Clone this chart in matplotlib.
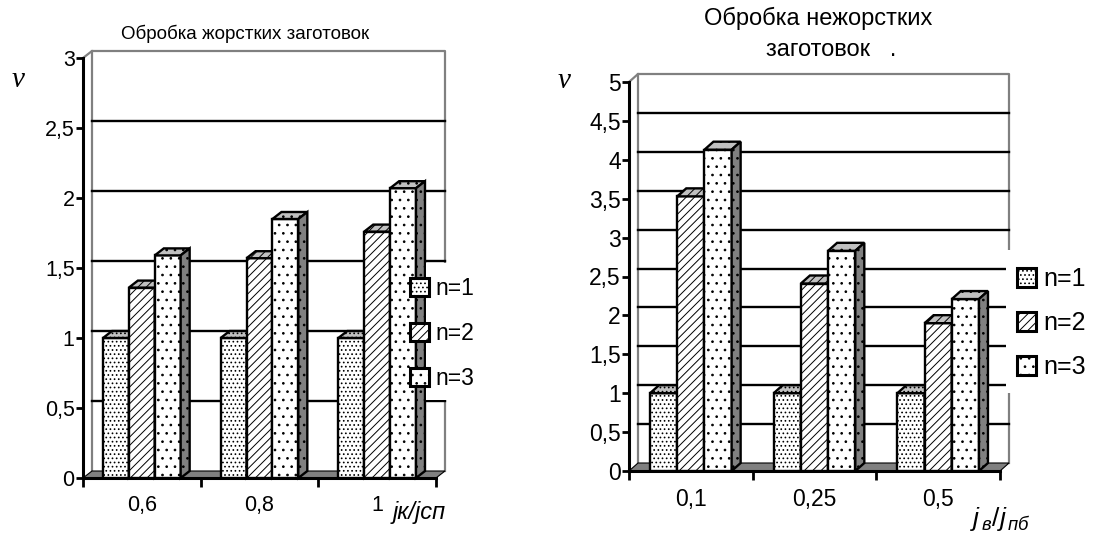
import matplotlib
matplotlib.use("Agg")
import matplotlib.pyplot as plt
from matplotlib.patches import Polygon, Rectangle, Patch

plt.rcParams["font.family"] = "Liberation Sans"
plt.rcParams["hatch.linewidth"] = 0.7
plt.rcParams["mathtext.fontset"] = "custom"
plt.rcParams["mathtext.it"] = "Liberation Sans:italic"
plt.rcParams["mathtext.rm"] = "Liberation Sans"

series_labels = ["n=1", "n=2", "n=3"]
hatches = ["....", "////", ".."]

# left panel: rigid workpieces
rigid_categories = ["0,6", "0,8", "1"]
rigid_n1 = [1.0, 1.0, 1.0]
rigid_n2 = [1.36, 1.57, 1.76]
rigid_n3 = [1.59, 1.85, 2.07]
rigid_yticks = [0, 0.5, 1, 1.5, 2, 2.5, 3]
rigid_yticklabels = ["0", "0,5", "1", "1,5", "2", "2,5", "3"]

# right panel: non-rigid workpieces
soft_categories = ["0,1", "0,25", "0,5"]
soft_n1 = [1.0, 1.0, 1.0]
soft_n2 = [3.53, 2.41, 1.90]
soft_n3 = [4.13, 2.83, 2.21]
soft_yticks = [0, 0.5, 1, 1.5, 2, 2.5, 3, 3.5, 4, 4.5, 5]
soft_yticklabels = ["0", "0,5", "1", "1,5", "2", "2,5", "3", "3,5", "4", "4,5", "5"]

GRAY = "#808080"
LIGHT = "#c0c0c0"
W, H = 1097, 537


def fig_box(x0, y0, x1, y1):
    # pixel box (top-left origin) -> figure fraction rect
    return [x0 / W, 1 - y1 / H, (x1 - x0) / W, (y1 - y0) / H]


def draw_panel(fig, ax, categories, series, yticks, yticklabels,
               ddx, ddy, ticksize, xpad):
    ncat = len(categories)
    ymax = yticks[-1]
    x0, x1 = -0.5, ncat - 0.5
    ax.set_xlim(x0, x1)
    ax.set_ylim(0, ymax)
    box = ax.get_position()
    dx = ddx * ncat / (box.width * W)
    dy = ddy * ymax / (box.height * H)

    # back wall outline
    ax.plot([x0, x0 + dx, x1 + dx, x1 + dx], [ymax, ymax + dy, ymax + dy, dy],
            color=GRAY, lw=1.6, clip_on=False, zorder=1)
    ax.plot([x0 + dx, x0 + dx], [dy, ymax + dy], color=GRAY, lw=1.6,
            clip_on=False, zorder=1)
    # gridlines on the back wall
    for t in yticks[1:-1]:
        ax.plot([x0 + dx, x1 + dx], [t + dy, t + dy], color="black", lw=1.7,
                clip_on=False, zorder=1)
    # floor
    ax.add_patch(Polygon([(x0, 0), (x1, 0), (x1 + dx, dy), (x0 + dx, dy)],
                         closed=True, facecolor=GRAY, edgecolor="black",
                         lw=0.8, clip_on=False, zorder=1.5))

    width = 0.22
    for i, vals in enumerate(series):
        xs = [c + (i - 1) * width for c in range(ncat)]
        ax.bar(xs, vals, width, facecolor="white", edgecolor="black", lw=1.7,
               hatch=hatches[i], zorder=3 + i, clip_on=False)
        for x, v in zip(xs, vals):
            xl, xr = x - width / 2, x + width / 2
            ax.add_patch(Polygon([(xl, v), (xr, v), (xr + dx, v + dy), (xl + dx, v + dy)],
                                 closed=True, facecolor=LIGHT, edgecolor="black",
                                 lw=1.7, hatch=hatches[i], zorder=3 + i, clip_on=False))
            ax.add_patch(Polygon([(xr, 0), (xr, v), (xr + dx, v + dy), (xr + dx, dy)],
                                 closed=True, facecolor=GRAY, edgecolor="black",
                                 lw=1.7, hatch=hatches[i], zorder=3 + i, clip_on=False))

    for side in ["top", "right"]:
        ax.spines[side].set_visible(False)
    for side in ["left", "bottom"]:
        ax.spines[side].set_linewidth(2.2)
        ax.spines[side].set_zorder(2.5)
    ax.set_yticks(yticks, yticklabels)
    ax.tick_params(axis="y", direction="out", length=5, width=2,
                   labelsize=ticksize, pad=1)
    ax.set_xticks([x0 + k for k in range(ncat + 1)], [""] * (ncat + 1))
    ax.set_xticks(range(ncat), categories, minor=True)
    ax.tick_params(axis="x", which="major", direction="out", length=6.5, width=2)
    ax.tick_params(axis="x", which="minor", length=0, labelsize=ticksize, pad=xpad)


def main():
    fig = plt.figure(figsize=(W / 100, H / 100), dpi=100)

    ax1 = fig.add_axes(fig_box(83, 58, 436, 478))
    draw_panel(fig, ax1, rigid_categories, [rigid_n1, rigid_n2, rigid_n3],
               rigid_yticks, rigid_yticklabels, 9, 7, 15.5, 12)

    ax2 = fig.add_axes(fig_box(629, 82, 1000, 471))
    draw_panel(fig, ax2, soft_categories, [soft_n1, soft_n2, soft_n3],
               soft_yticks, soft_yticklabels, 9, 8, 16.5, 12.5)

    # white background behind the legends
    for (a, b, c, d) in [(426, 263, 500, 400), (1006, 250, 1097, 393)]:
        r = fig_box(a, b, c, d)
        fig.add_artist(Rectangle((r[0], r[1]), r[2], r[3], transform=fig.transFigure,
                                 facecolor="white", edgecolor="none", zorder=2))

    handles = [Patch(facecolor="white", edgecolor="black", lw=2.2, hatch=h) for h in hatches]
    for (px, py, fs, hs, sp) in [(410, 277, 16.5, 0.82, 0.95), (1017, 267, 18, 0.76, 0.8)]:
        leg = fig.legend(handles, series_labels, loc="upper left",
                         bbox_to_anchor=(px / W, 1 - py / H), frameon=False,
                         fontsize=fs, handlelength=hs, handleheight=hs,
                         handletextpad=0.3, labelspacing=sp, borderpad=0,
                         borderaxespad=0)
        leg.set_zorder(5)

    # titles
    fig.text(245 / W, 1 - 34 / H, "Обробка жорстких заготовок", ha="center",
             va="center", fontsize=13.5)
    fig.text(818 / W, 1 - 18 / H, "Обробка нежорстких", ha="center",
             va="center", fontsize=17)
    fig.text(831 / W, 1 - 50 / H, "заготовок   .", ha="center",
             va="center", fontsize=17)

    # axis symbols
    for (px, py) in [(18, 80), (564, 81)]:
        fig.text(px / W, 1 - py / H, "ν", ha="center", va="center", fontsize=21,
                 family="Liberation Serif", style="italic")
    fig.text(393 / W, 1 - 513 / H, "jк/jсп", ha="left", va="center",
             fontsize=17, style="italic")
    fig.text(970 / W, 1 - 519 / H, r"$\mathit{j_{\,в}/j_{\,пб}}$", ha="left",
             va="center", fontsize=19)

    fig.savefig("out.png", dpi=100)
    plt.close(fig)


if __name__ == "__main__":
    main()
